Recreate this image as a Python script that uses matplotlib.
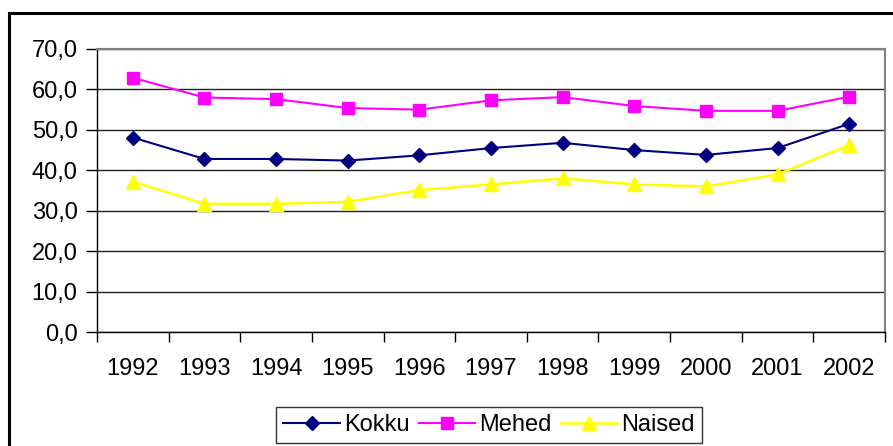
import matplotlib.pyplot as plt
from matplotlib.patches import Rectangle

plt.rcParams['font.family'] = ['Liberation Sans', 'DejaVu Sans']

years = ['1992', '1993', '1994', '1995', '1996', '1997', '1998', '1999', '2000', '2001', '2002']
kokku = [48.1, 42.8, 42.8, 42.4, 43.7, 45.5, 46.8, 45.0, 43.8, 45.5, 51.5]
mehed = [62.9, 58.0, 57.6, 55.4, 55.0, 57.3, 58.1, 55.9, 54.7, 54.7, 58.2]
naised = [37.2, 31.7, 31.7, 32.2, 35.1, 36.5, 38.0, 36.5, 36.0, 39.0, 46.2]

W, H = 893, 446
fig = plt.figure(figsize=(W / 100, H / 100), dpi=100)
ax = fig.add_axes([97 / W, 1 - 332 / H, (885 - 97) / W, (332 - 49) / H])

# outer chart frame (cut off on right and bottom)
fig.patches.append(Rectangle((9 / W, -0.1), 1.2, 1 - 13 / H + 0.1, transform=fig.transFigure,
                             fill=False, edgecolor='black', linewidth=2.2))

x = list(range(len(years)))
ax.plot(x, kokku, color='#000080', marker='D', markersize=7.5, linewidth=1.5, label='Kokku')
ax.plot(x, mehed, color='#FF00FF', marker='s', markersize=8.5, linewidth=1.5, label='Mehed')
ax.plot(x, naised, color='#FFFF00', marker='^', markersize=10, linewidth=1.8, label='Naised')

ax.set_xlim(-0.5, len(years) - 0.5)
ax.set_ylim(0, 70)
ax.set_yticks(range(0, 71, 10))
ax.set_yticklabels([f'{v},0' for v in range(0, 71, 10)], fontsize=17)
ax.set_xticks(x)
ax.set_xticklabels(years, fontsize=17)
ax.set_xticks([i - 0.5 for i in range(len(years) + 1)], minor=True)
ax.tick_params(axis='x', which='major', length=0, pad=19)
ax.tick_params(axis='x', which='minor', length=7, width=1, direction='out')
ax.tick_params(axis='y', length=8, width=1, direction='out', pad=6)

ax.grid(axis='y', color='#202020', linewidth=1)
ax.set_axisbelow(True)
for s in ['top', 'right']:
    ax.spines[s].set_color('#808080')
    ax.spines[s].set_linewidth(1.5)
for s in ['left', 'bottom']:
    ax.spines[s].set_color('black')
    ax.spines[s].set_linewidth(1)

leg = ax.legend(loc='center', bbox_to_anchor=(489 / W, 1 - 425 / H), bbox_transform=fig.transFigure,
                ncol=3, fontsize=17, frameon=True, fancybox=False, edgecolor='black',
                handlelength=2.4, handletextpad=0.15, columnspacing=0.4, borderpad=0.3,
                borderaxespad=0)
leg.get_frame().set_linewidth(1)

fig.savefig('out.png', dpi=100)
